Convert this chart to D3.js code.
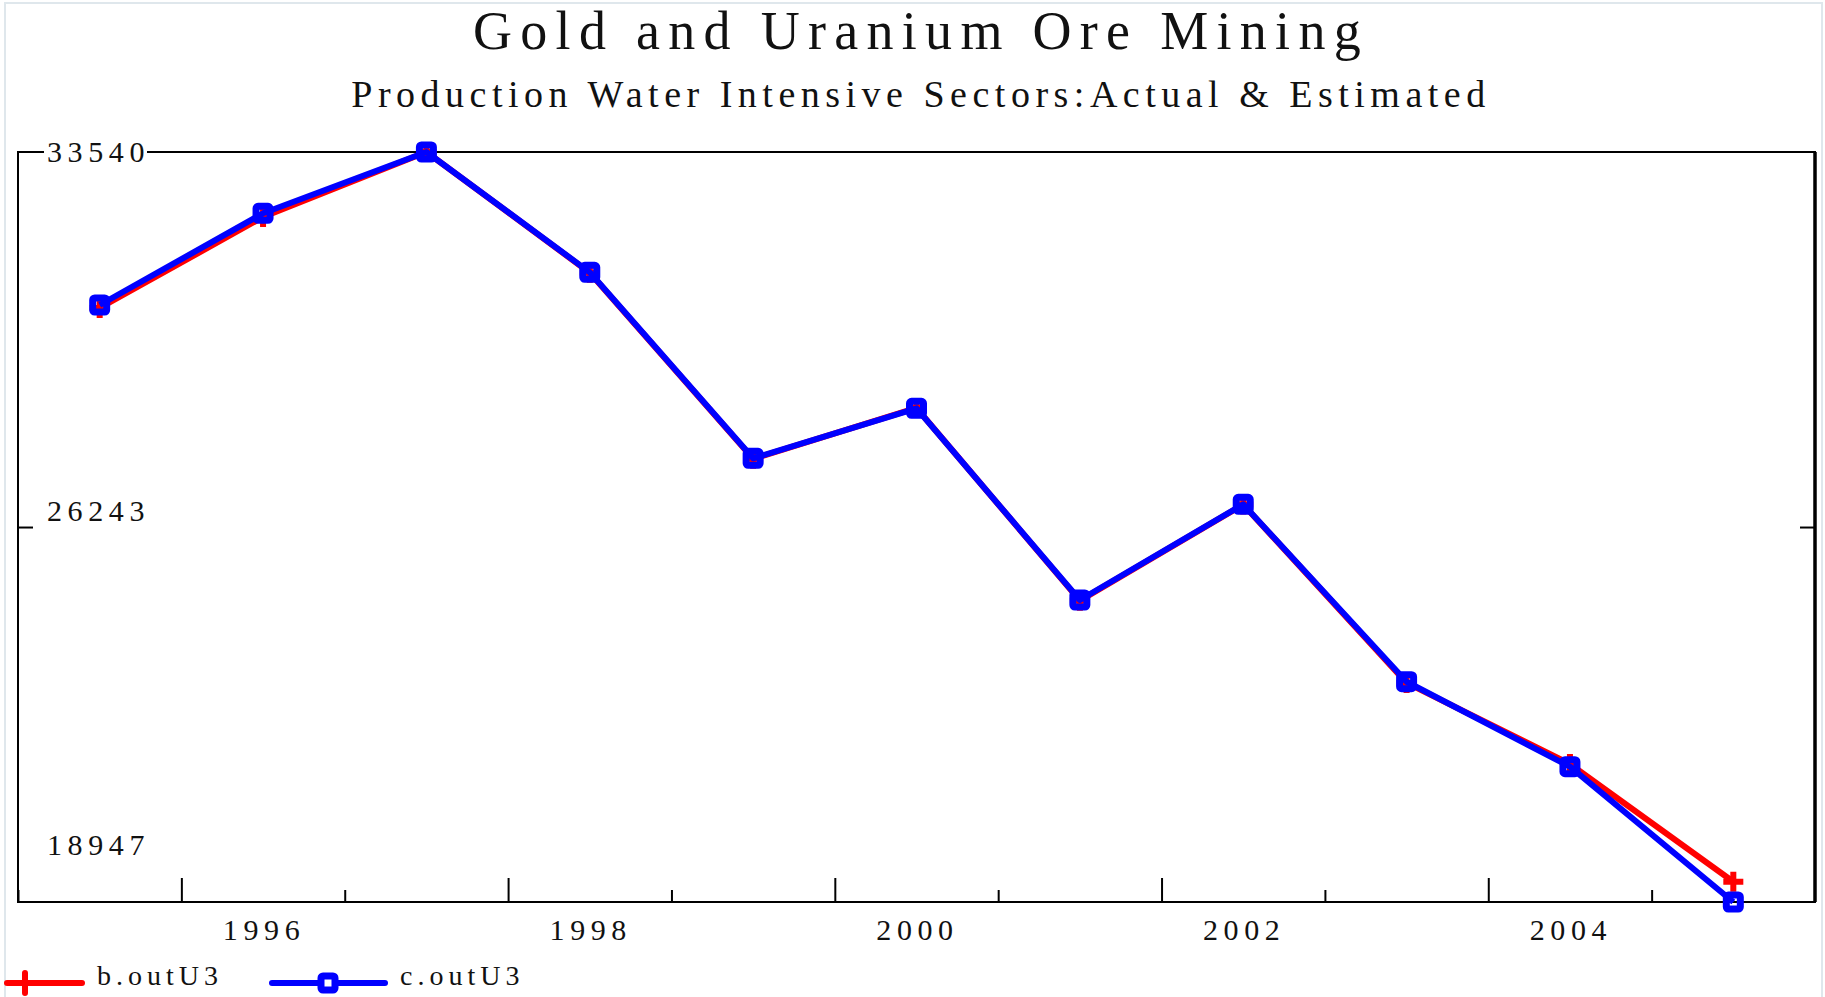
<!DOCTYPE html>
<html>
<head>
<meta charset="utf-8">
<script src="https://cdn.jsdelivr.net/npm/d3@7"></script>
<style>
  body { margin: 0; background: #fff; }
  svg text { font-family: "Liberation Serif", "Times New Roman", serif; fill: #111; }
</style>
</head>
<body>
<svg id="chart" width="1825" height="997"></svg>
<script>
// data
const years = [1995, 1996, 1997, 1998, 1999, 2000, 2001, 2002, 2003, 2004, 2005];
const bOutU3 = [30505, 32275, 33540, 31190, 27570, 28560, 24810, 26680, 23210, 21632, 19341];
const cOutU3 = [30563, 32347, 33540, 31199, 27580, 28553, 24823, 26685, 23233, 21580, 18947];
const yTicks = [33540, 26243, 18947];
const xLabels = [1996, 1998, 2000, 2002, 2004];
const seriesNames = ["b.outU3", "c.outU3"];

const plotLeft = 18, plotRight = 1815, plotTop = 152, plotBottom = 902;

const svg = d3.select("#chart");

// light outer frame
svg.append("rect")
  .attr("x", 5).attr("y", 3)
  .attr("width", 1817).attr("height", 1000)
  .attr("fill", "#fff")
  .attr("stroke", "#dfe7ec")
  .attr("stroke-width", 2);

const x = d3.scaleLinear().domain([1995, 2006]).range([plotLeft, plotRight]);
const y = d3.scaleLinear().domain([18947, 33540]).range([plotBottom, plotTop]);

// titles
svg.append("text")
  .attr("x", 921).attr("y", 49)
  .attr("text-anchor", "middle")
  .style("font-size", "54px")
  .style("letter-spacing", "8.3px")
  .text("Gold and Uranium Ore Mining");

svg.append("text")
  .attr("x", 921).attr("y", 107)
  .attr("text-anchor", "middle")
  .style("font-size", "38px")
  .style("letter-spacing", "5.5px")
  .text("Production Water Intensive Sectors:Actual & Estimated");

// plot frame
svg.append("rect")
  .attr("x", plotLeft).attr("y", plotTop)
  .attr("width", plotRight - plotLeft).attr("height", plotBottom - plotTop)
  .attr("fill", "none")
  .attr("stroke", "#000")
  .attr("stroke-width", 2);
svg.append("line")
  .attr("x1", plotRight).attr("x2", plotRight)
  .attr("y1", plotTop).attr("y2", plotBottom)
  .attr("stroke", "#000").attr("stroke-width", 3.5);

// x ticks: year boundaries, long on even years
const xAxis = svg.append("g")
  .attr("transform", `translate(0,${plotBottom})`)
  .call(d3.axisBottom(x).tickValues(d3.range(1995, 2006)).tickSize(-12).tickFormat(""));
xAxis.select(".domain").remove();
xAxis.selectAll(".tick line")
  .attr("stroke", "#000").attr("stroke-width", 2)
  .attr("y2", d => d % 2 === 0 ? -24 : -12);

// x labels, centered in the year interval
svg.selectAll(".xlab")
  .data(xLabels)
  .enter()
  .append("text")
  .attr("class", "xlab")
  .attr("x", d => x(d + 0.5) + 1)
  .attr("y", plotBottom + 38)
  .attr("text-anchor", "middle")
  .style("font-size", "30px")
  .style("letter-spacing", "5.6px")
  .text(d => d);

// y ticks, left and right, inward
const midTicks = yTicks.slice(1, 2);
const yLeft = svg.append("g")
  .attr("transform", `translate(${plotLeft},0)`)
  .call(d3.axisLeft(y).tickValues(midTicks).tickSize(-15).tickFormat(""));
yLeft.select(".domain").remove();
yLeft.selectAll(".tick line").attr("stroke", "#000").attr("stroke-width", 2);
const yRight = svg.append("g")
  .attr("transform", `translate(${plotRight},0)`)
  .call(d3.axisRight(y).tickValues(midTicks).tickSize(-15).tickFormat(""));
yRight.select(".domain").remove();
yRight.selectAll(".tick line").attr("stroke", "#000").attr("stroke-width", 2);

// y labels: top one sits on the frame, the others above their line
const yOffset = i => i === 0 ? 10 : (i === 1 ? -6 : -47);
yTicks.forEach((v, i) => {
  const t = svg.append("text")
    .attr("x", 47)
    .attr("y", y(v) + yOffset(i))
    .style("font-size", "30px")
    .style("letter-spacing", "5.6px")
    .text(v);
  if (i === 0) {
    const bb = t.node().getBBox();
    svg.append("rect")
      .attr("x", bb.x - 3).attr("y", y(v) - 3)
      .attr("width", bb.width).attr("height", 6)
      .attr("fill", "#fff");
    t.raise();
  }
});

const line = d3.line()
  .x((d, i) => x(years[i] + 0.5))
  .y(d => y(d));

function plusPath(s) {
  return `M${-s},0H${s}M0,${-s}V${s}`;
}

// b.outU3 (red, plus markers)
svg.append("path")
  .datum(bOutU3)
  .attr("d", line)
  .attr("fill", "none")
  .attr("stroke", "#ff0000")
  .attr("stroke-width", 6)
  .attr("stroke-linejoin", "round");

svg.selectAll(".bmark")
  .data(bOutU3)
  .enter()
  .append("path")
  .attr("class", "bmark")
  .attr("transform", (d, i) => `translate(${x(years[i] + 0.5)},${y(d)})`)
  .attr("d", plusPath(10))
  .attr("stroke", "#ff0000")
  .attr("stroke-width", 6);

// c.outU3 (blue, square markers)
svg.append("path")
  .datum(cOutU3)
  .attr("d", line)
  .attr("fill", "none")
  .attr("stroke", "#0000ff")
  .attr("stroke-width", 6)
  .attr("stroke-linejoin", "round");

svg.selectAll(".cmark")
  .data(cOutU3)
  .enter()
  .append("rect")
  .attr("class", "cmark")
  .attr("x", (d, i) => x(years[i] + 0.5) - 7)
  .attr("y", d => y(d) - 7)
  .attr("width", 14).attr("height", 14)
  .attr("rx", 2)
  .attr("fill", "none")
  .attr("stroke", "#0000ff")
  .attr("stroke-width", 7);

// legend
const lg = svg.append("g");
lg.append("line")
  .attr("x1", 7).attr("x2", 82).attr("y1", 983).attr("y2", 983)
  .attr("stroke", "#ff0000").attr("stroke-width", 6).attr("stroke-linecap", "round");
lg.append("path")
  .attr("transform", "translate(25,983)")
  .attr("d", plusPath(10))
  .attr("stroke", "#ff0000").attr("stroke-width", 6).attr("stroke-linecap", "round");
lg.append("text")
  .attr("x", 97).attr("y", 985)
  .style("font-size", "28px")
  .style("letter-spacing", "5px")
  .text(seriesNames[0]);

lg.append("line")
  .attr("x1", 272).attr("x2", 385).attr("y1", 983).attr("y2", 983)
  .attr("stroke", "#0000ff").attr("stroke-width", 6).attr("stroke-linecap", "round");
lg.append("rect")
  .attr("x", 328 - 7).attr("y", 983 - 7)
  .attr("width", 14).attr("height", 14).attr("rx", 2)
  .attr("fill", "#fff")
  .attr("stroke", "#0000ff").attr("stroke-width", 7);
lg.append("text")
  .attr("x", 400).attr("y", 985)
  .style("font-size", "28px")
  .style("letter-spacing", "5px")
  .text(seriesNames[1]);
</script>
</body>
</html>
